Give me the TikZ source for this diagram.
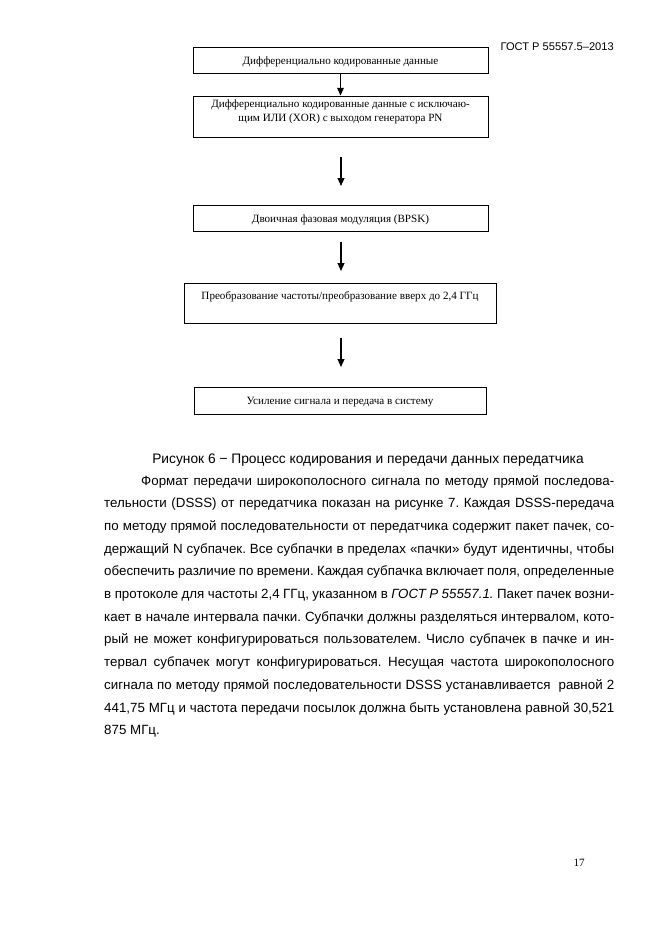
\documentclass[tikz,border=0pt]{standalone}
\usepackage{fontspec}
\setmainfont{Liberation Serif}
\newfontfamily\arialf{Liberation Sans}
\usetikzlibrary{arrows.meta}
\newcommand{\pline}[2]{\makebox[#1][s]{#2}}
\frenchspacing
\begin{document}
\begin{tikzpicture}[x=0.9pt,y=-0.9pt,
  box/.style={draw, line width=0.8pt, inner sep=0pt},
  boxtext/.style={inner sep=0pt, font=\fontsize{10}{12}\selectfont},
  flow/.style={line width=1.3pt, -{Triangle[length=7pt,width=6pt]}},
  body/.style={inner sep=0pt, anchor=base west, font=\arialf\fontsize{12}{14}\selectfont},
]
\useasboundingbox (0,0) rectangle (661,935);
% header
\node[inner sep=0pt, anchor=base east, font=\arialf\fontsize{10}{12}\selectfont] (hdr) at (614,50) {ГОСТ Р 55557.5–2013};
% boxes
\node[box, minimum width=265.5pt, minimum height=23.4pt] (b1) at (340.5,60) {};
\node[box, minimum width=265.5pt, minimum height=36.9pt] (b2) at (340.5,116.5) {};
\node[box, minimum width=265.5pt, minimum height=23.4pt] (b3) at (340.5,218) {};
\node[box, minimum width=280.8pt, minimum height=36pt] (b4) at (340,303) {};
\node[box, minimum width=262.8pt, minimum height=24.3pt] (b5) at (340,400.5) {};
% box texts
\node[boxtext, anchor=base] (t1) at (340.5,64) {Дифференциально кодированные данные};
\node[boxtext, anchor=base] (t2a) at (340.5,107) {Дифференциально кодированные данные с исключаю-};
\node[boxtext, anchor=base] (t2b) at (340.5,121) {щим ИЛИ (XOR) с выходом генератора PN};
\node[boxtext, anchor=base] (t3) at (340.5,222) {Двоичная фазовая модуляция (BPSK)};
\node[boxtext, anchor=base] (t4) at (340,299) {Преобразование частоты/преобразование вверх до 2,4 ГГц};
\node[boxtext, anchor=base] (t5) at (340,404) {Усиление сигнала и передача в систему};
% arrows
\coordinate (a2s) at (341,157);
\coordinate (a2e) at (341,186);
\coordinate (a3s) at (341,242);
\coordinate (a3e) at (341,271);
\coordinate (a4s) at (341,338);
\coordinate (a4e) at (341,367);
\draw[flow] (b1.south) -- (b2.north);
\draw[flow] (a2s) -- (a2e);
\draw[flow] (a3s) -- (a3e);
\draw[flow] (a4s) -- (a4e);
% caption
\node[inner sep=0pt, anchor=base, font=\arialf\fontsize{12.4}{14}\selectfont] (cap) at (368,463) {Рисунок 6 − Процесс кодирования и передачи данных передатчика};
% paragraph
\node[body] (l1) at (141,485.0) {\pline{425.7pt}{Формат передачи широкополосного сигнала по методу прямой последова-}};
\node[body] (l2) at (104,507.7) {\pline{459pt}{тельности (DSSS) от передатчика показан на рисунке 7. Каждая DSSS-передача}};
\node[body] (l3) at (104,530.4) {\pline{459pt}{по методу прямой последовательности от передатчика содержит пакет пачек, со-}};
\node[body] (l4) at (104,553.1) {\pline{459pt}{держащий N субпачек. Все субпачки в пределах «пачки» будут идентичны, чтобы}};
\node[body] (l5) at (104,575.8) {\pline{459pt}{обеспечить различие по времени. Каждая субпачка включает поля, определенные}};
\node[body] (l6) at (104,598.5) {\pline{459pt}{в протоколе для частоты 2,4 ГГц, указанном в \textit{ГОСТ Р 55557.1.} Пакет пачек возни-}};
\node[body] (l7) at (104,621.2) {\pline{459pt}{кает в начале интервала пачки. Субпачки должны разделяться интервалом, кото-}};
\node[body] (l8) at (104,643.9) {\pline{459pt}{рый не может конфигурироваться пользователем. Число субпачек в пачке и ин-}};
\node[body] (l9) at (104,666.6) {\pline{459pt}{тервал субпачек могут конфигурироваться. Несущая частота широкополосного}};
\node[body] (l10) at (104,689.3) {\pline{459pt}{сигнала по методу прямой последовательности DSSS устанавливается\ \ равной 2}};
\node[body] (l11) at (104,712.0) {\pline{459pt}{441,75 МГц и частота передачи посылок должна быть установлена равной 30,521}};
\node[body] (l12) at (104,734.7) {875 МГц.};
% page number
\node[inner sep=0pt, anchor=base east, font=\fontsize{10}{12}\selectfont] (pg) at (585,866) {17};
\end{tikzpicture}
\end{document}
